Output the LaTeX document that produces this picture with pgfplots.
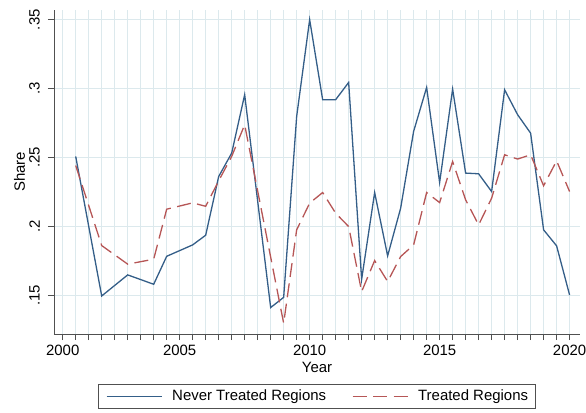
\documentclass[border=0pt]{standalone}
\usepackage{pgfplots}
\pgfplotsset{compat=1.18}
\usepackage{fontspec}
\setmainfont{Liberation Sans}
\definecolor{sblue}{RGB}{52,94,136}
\definecolor{sred}{RGB}{182,86,86}
\definecolor{gridc}{RGB}{220,233,237}
\definecolor{axc}{RGB}{80,80,80}
\begin{document}
\fontsize{15}{18}\selectfont
\begin{tikzpicture}
\begin{axis}[
  at={(0,0)}, anchor=south west,
  scale only axis, width=526bp, height=324bp,
  xmin=-0.67, xmax=39.8, ymin=0.1218, ymax=0.357,
  axis x line*=bottom, axis y line*=left,
  axis line style={-, draw=axc, line width=0.9bp},
  xtick={0,9,19,29,39}, xticklabels={2000,2005,2010,2015,2020},
  minor xtick={0,...,39},
  ytick={0.15,0.2,0.25,0.3,0.35}, yticklabels={.15,.2,.25,.3,.35},
  tick align=outside, major tick length=6bp, minor tick length=6bp,
  tick style={draw=axc, line width=0.9bp},
  xmajorgrids, xminorgrids, ymajorgrids,
  major grid style={draw=gridc, line width=1.1bp},
  minor grid style={draw=gridc, line width=1.1bp},
  /pgf/number format/assume math mode=true,
  yticklabel style={rotate=90, anchor=south},
  yticklabel shift=3bp,
  xlabel={Year}, ylabel={Share},
  xlabel style={yshift=4bp},
  ylabel style={yshift=-6bp},
  legend columns=2,
  legend style={at={(0.5,-0.1543)}, anchor=north, draw=axc, line width=0.8bp,
    inner xsep=7.4bp, inner ysep=2bp,
    nodes={inner xsep=0bp, inner ysep=3.5bp},
    /tikz/every odd column/.append style={column sep=10bp},
    /tikz/every even column/.append style={column sep=25.7bp}},
  legend image code/.code={\draw[#1] (0bp,0bp) -- (55bp,0bp);},
]
\addplot[sblue, line width=1.3bp] coordinates {
(1,0.2507) (3,0.1494) (5,0.1647) (7,0.1579) (8,0.1782) (10,0.1865) (11,0.1935)
(12,0.2361) (13,0.2531) (14,0.2955) (16,0.1410) (17,0.1484) (18,0.2797) (19,0.3500)
(20,0.2919) (21,0.2919) (22,0.3044) (23,0.1615) (24,0.2245) (25,0.1785) (26,0.2131)
(27,0.2689) (28,0.3008) (29,0.2318) (30,0.2996) (31,0.2386) (32,0.2381) (33,0.2252)
(34,0.2991) (35,0.2810) (36,0.2676) (37,0.1974) (38,0.1858) (39,0.1501)
};
\addlegendentry{Never Treated Regions}
\addplot[sred, line width=1.3bp, dash pattern=on 14bp off 6.5bp] coordinates {
(1,0.2441) (3,0.1860) (5,0.1725) (7,0.1761) (8,0.2124) (10,0.2170) (11,0.2145)
(12,0.2330) (13,0.2507) (14,0.2737) (17,0.1296) (18,0.1974) (19,0.2168) (20,0.2245)
(21,0.2095) (22,0.1998) (23,0.1526) (24,0.1751) (25,0.1599) (26,0.1780) (27,0.1865)
(28,0.2245) (29,0.2172) (30,0.2470) (31,0.2192) (32,0.2010) (33,0.2204) (34,0.2519)
(35,0.2488) (36,0.2519) (37,0.2294) (38,0.2475) (39,0.2252)
};
\addlegendentry{Treated Regions}
\end{axis}
\pgfresetboundingbox
\path[use as bounding box] (-54bp,-79bp) rectangle (532bp,334bp);
\end{tikzpicture}
\end{document}
